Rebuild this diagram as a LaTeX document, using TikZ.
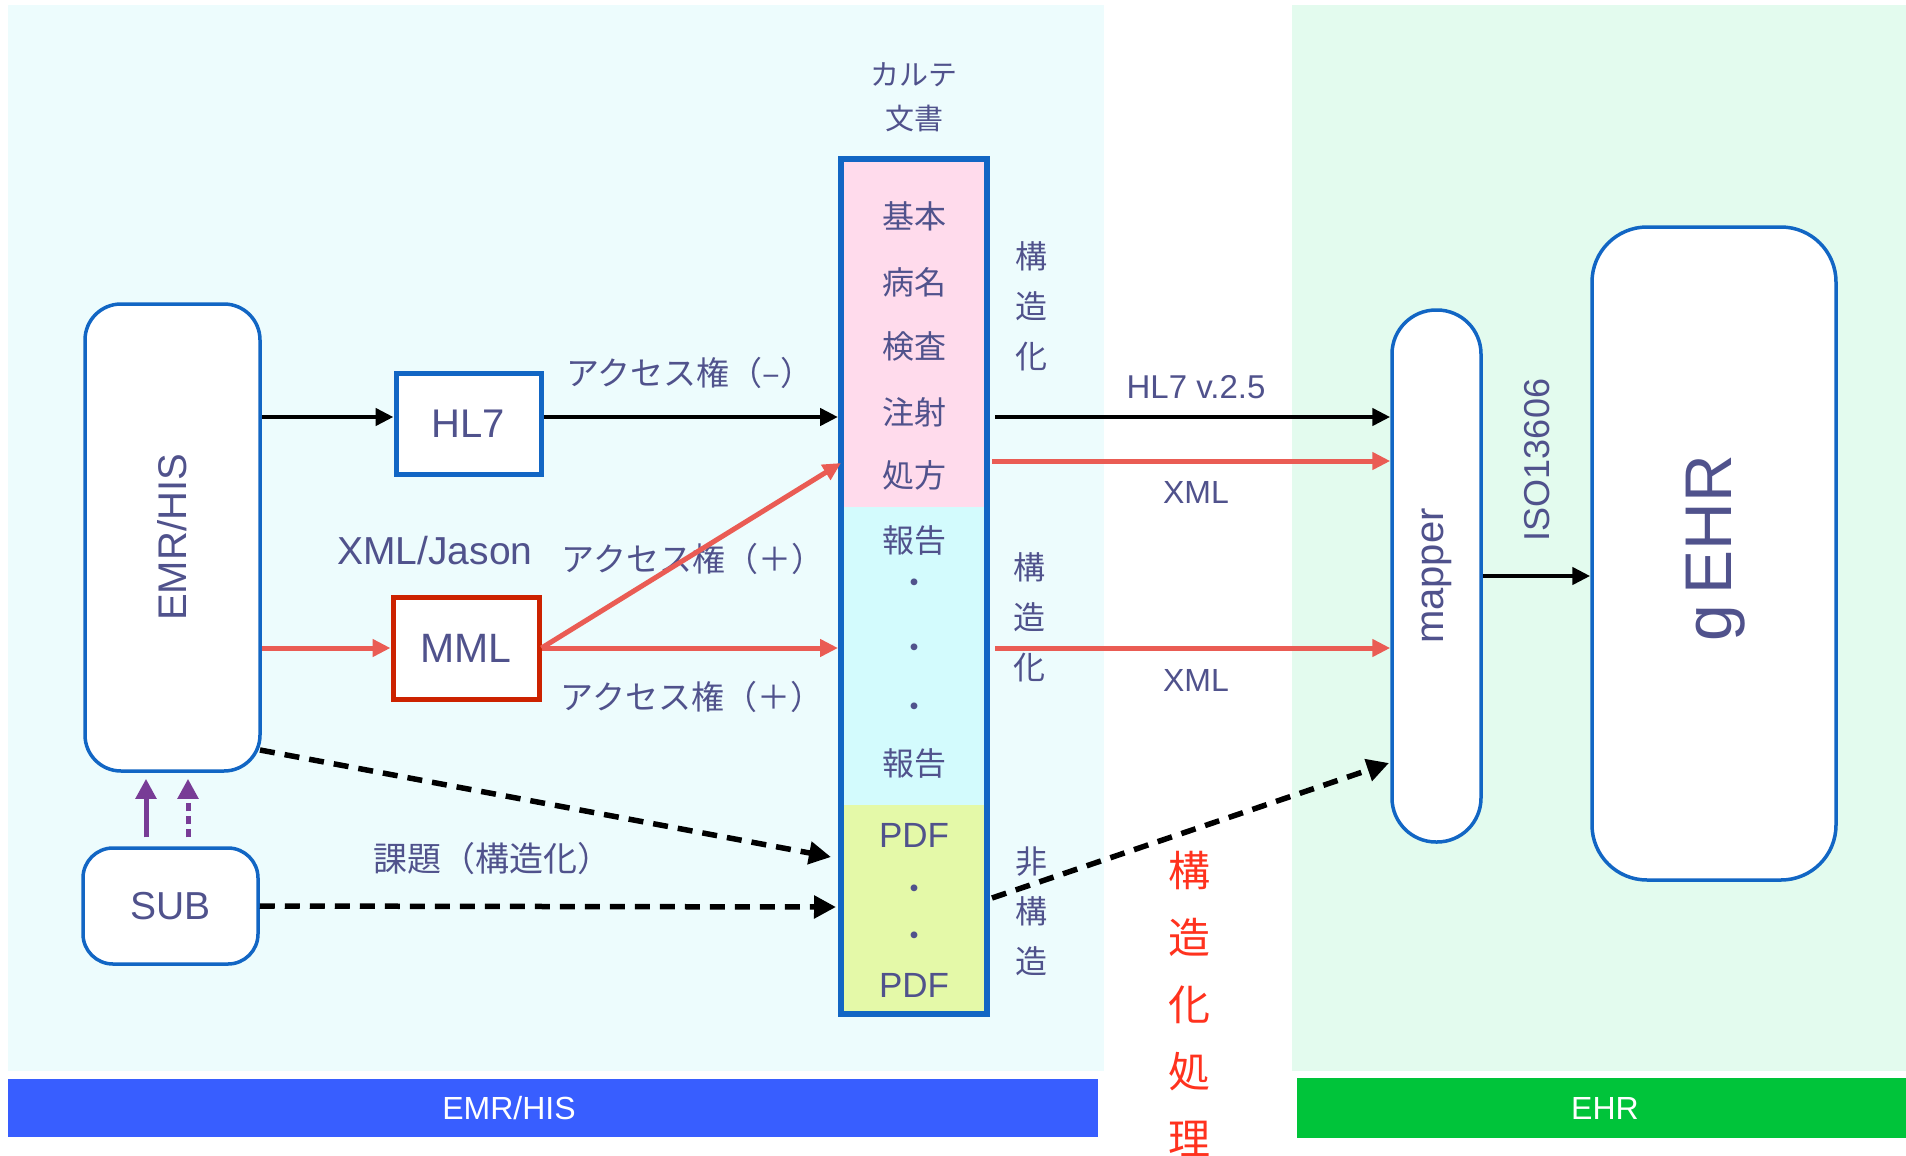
\documentclass[tikz,border=0pt]{standalone}
\usepackage{fontspec}
\setmainfont{Liberation Sans}
\newfontfamily\jp{Noto Sans CJK JP}
\usetikzlibrary{arrows.meta,calc}
\definecolor{panelc}{RGB}{237,252,253}
\definecolor{panelg}{RGB}{227,251,238}
\definecolor{barblue}{RGB}{56,94,255}
\definecolor{bargreen}{RGB}{0,196,58}
\definecolor{pinkf}{RGB}{255,219,236}
\definecolor{cyanf}{RGB}{211,251,253}
\definecolor{limef}{RGB}{228,249,168}
\definecolor{boxblue}{RGB}{18,102,196}
\definecolor{mmlred}{RGB}{204,34,0}
\definecolor{arrred}{RGB}{234,92,84}
\definecolor{purp}{RGB}{120,60,150}
\definecolor{txtc}{RGB}{80,82,140}
\definecolor{redtxt}{RGB}{255,50,30}
\newcommand{\myfs}[1]{\fontsize{#1}{#1}\selectfont}
\begin{document}
\begin{tikzpicture}[x=1pt,y=-1pt,
  lbl/.style={text=txtc, inner sep=0pt},
  rbox/.style={draw=boxblue, line width=3.5pt, fill=white, rounded corners=#1, inner sep=0pt},
  blk/.style={draw=black, line width=4.5pt, -{Triangle[length=18pt,width=17pt]}},
  redarr/.style={draw=arrred, line width=5pt, -{Triangle[length=18pt,width=17pt]}},
  dsh/.style={draw=black, line width=5.5pt, dash pattern=on 15pt off 10pt, -{Triangle[length=22pt,width=22pt]}},
  purpar/.style={draw=purp, line width=5pt, -{Triangle[length=20pt,width=20pt]}}
]
\useasboundingbox (0,0) rectangle (1906,1156);
\fill[white] (0,0) rectangle (1906,1156);
% panels
\fill[panelc] (8,5) rectangle (1104,1071);
\fill[panelg] (1292,5) rectangle (1906,1071);
\fill[barblue] (8,1079) rectangle (1098,1137);
\fill[bargreen] (1297,1078) rectangle (1906,1138);
\node[text=white, inner sep=0pt, font=\myfs{32}] (barl) at (509,1108) {EMR/HIS};
\node[text=white, inner sep=0pt, font=\myfs{32}] (barr) at (1605,1108) {EHR};

% karte column fills
\fill[pinkf] (841,159) rectangle (987,507);
\fill[cyanf] (841,507) rectangle (987,805);
\fill[limef] (841,805) rectangle (987,1014);
\node[draw=boxblue, line width=6pt, minimum width=146pt, minimum height=855pt, inner sep=0pt] (karte) at (914,586.5) {};

\node[lbl, font=\jp\myfs{29}] (kt1) at (914,75) {カルテ};
\node[lbl, font=\jp\myfs{29}] (kt2) at (914,118) {文書};

\node[lbl, font=\jp\myfs{32}] (k1) at (914,216) {基本};
\node[lbl, font=\jp\myfs{32}] (k2) at (914,282) {病名};
\node[lbl, font=\jp\myfs{32}] (k3) at (914,346) {検査};
\node[lbl, font=\jp\myfs{32}] (k4) at (914,412) {注射};
\node[lbl, font=\jp\myfs{32}] (k5) at (914,475) {処方};
\node[lbl, font=\jp\myfs{32}] (k6) at (914,540) {報告};
\node[lbl, font=\jp\myfs{32}] (d1) at (914,587) {・};
\node[lbl, font=\jp\myfs{32}] (d2) at (914,652) {・};
\node[lbl, font=\jp\myfs{32}] (d3) at (914,711) {・};
\node[lbl, font=\jp\myfs{32}] (k7) at (914,763) {報告};
\node[lbl, font=\myfs{35}] (p1) at (914,835) {PDF};
\node[lbl, font=\jp\myfs{32}] (d4) at (914,893) {・};
\node[lbl, font=\jp\myfs{32}] (d5) at (914,940) {・};
\node[lbl, font=\myfs{35}] (p2) at (914,985) {PDF};

% side vertical labels
\node[lbl, font=\jp\myfs{32}, align=center] (s1) at (1031,306) {\myfs{32}構\\[18pt]造\\[18pt]化};
\node[lbl, font=\jp\myfs{32}, align=center] (s2) at (1029,617) {\myfs{32}構\\[18pt]造\\[18pt]化};
\node[lbl, font=\jp\myfs{32}, align=center] (s3) at (1031,911) {\myfs{32}非\\[18pt]構\\[18pt]造};
\node[text=redtxt, inner sep=0pt, font=\jp\myfs{42}, align=center] (s4) at (1189,1004) {\myfs{42}構\\[25pt]造\\[25pt]化\\[25pt]処\\[25pt]理};

% left boxes
\node[rbox=36pt, minimum width=175pt, minimum height=467pt] (emr) at (172.5,537.5) {};
\node[lbl, rotate=90, font=\myfs{40}] (emrt) at (emr.center) {EMR/HIS};
\node[rbox=30pt, minimum width=175pt, minimum height=116pt, font=\myfs{39}, text=txtc] (sub) at (170.5,906) {SUB};
\node[draw=boxblue, line width=5pt, fill=white, minimum width=145pt, minimum height=101pt, inner sep=0pt, font=\myfs{40}, text=txtc] (hl7) at (468.5,424) {HL7};
\node[draw=mmlred, line width=5pt, fill=white, minimum width=146pt, minimum height=102pt, inner sep=0pt, font=\myfs{41}, text=txtc] (mml) at (466,648) {MML};
\node[lbl, font=\myfs{39}] (xmlj) at (435,551) {XML/Jason};

% right boxes
\node[rbox=44pt, minimum width=89pt, minimum height=532pt] (mapper) at (1436.5,576) {};
\node[lbl, rotate=90, font=\myfs{40}] (mapt) at (mapper.center) {mapper};
\node[rbox=55pt, minimum width=244pt, minimum height=653pt] (gehr) at (1714,553.5) {};
\node[lbl, rotate=90, font=\myfs{66}] (gehrt) at (1716,548) {g\hspace{10pt}EHR};
\node[lbl, rotate=90, font=\myfs{36}] (iso) at (1537,460) {ISO13606};

% labels on arrows
\node[lbl, font=\jp\myfs{33}] (a1) at (690,373) {アクセス権（–）};
\node[lbl, font=\jp\myfs{33}] (a2) at (693,559) {アクセス権（＋）};
\node[lbl, font=\jp\myfs{33}] (a3) at (692,697) {アクセス権（＋）};
\node[lbl, font=\jp\myfs{34}] (kadai) at (492,859) {課題（構造化）};
\node[lbl, font=\myfs{33}] (hlv) at (1196,387) {HL7 v.2.5};
\node[lbl, font=\myfs{32}] (x1) at (1196,492) {XML};
\node[lbl, font=\myfs{32}] (x2) at (1196,680) {XML};

% coordinates
\coordinate (hlY) at (0,417);
\coordinate (diagEnd) at (841,463);
\coordinate (red1s) at (992,461);
\coordinate (emrCorner) at (260,750);
\coordinate (dEnd1) at (831,857);
\coordinate (subEnd) at (836,907);
\coordinate (dStart3) at (992,898);
\coordinate (dEnd3) at (1389,763);

% arrows
\draw[blk] (emr.east |- hlY) -- (hl7.west |- hlY);
\draw[blk] (hl7.east |- hlY) -- (karte.west |- hlY);
\draw[redarr] (emr.east |- mml.west) -- (mml.west);
\draw[redarr] (mml.east) -- (mml.east -| karte.west);
\draw[redarr] (mml.east) -- (diagEnd);
\draw[blk, shorten <=5pt] (karte.east |- hlY) -- (mapper.west |- hlY);
\draw[redarr] (red1s) -- (red1s -| mapper.west);
\draw[redarr, shorten <=5pt] (karte.east |- mml.east) -- (mapper.west |- mml.east);
\draw[blk] (mapper.east) -- (gehr.west |- mapper.east);
\draw[dsh] (emrCorner) -- (dEnd1);
\draw[dsh] (sub.east) -- (subEnd);
\draw[dsh] (dStart3) -- (dEnd3);
\draw[purpar, shorten <=9pt, shorten >=6pt] ([xshift=-24.5pt]sub.north) -- ([xshift=-24.5pt]sub.north |- emr.south);
\draw[purpar, dash pattern=on 8pt off 5pt, shorten <=9pt, shorten >=6pt] ([xshift=17.5pt]sub.north) -- ([xshift=17.5pt]sub.north |- emr.south);
\end{tikzpicture}
\end{document}
